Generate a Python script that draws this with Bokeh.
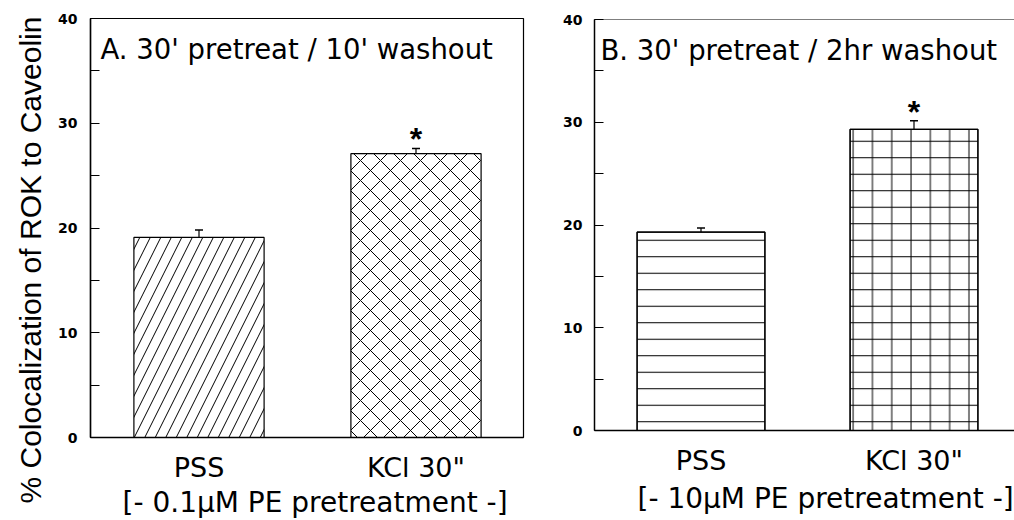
import math
from bokeh.plotting import figure
from bokeh.layouts import row, column
from bokeh.models import (Range1d, FixedTicker, SingleIntervalTicker, ColumnDataSource,
                          Whisker, TeeHead, Label, Span, Title)
from bokeh.core.properties import value
from bokeh.embed import file_html
from bokeh.resources import INLINE

# ---- data ----
categories = ["PSS", 'KCl 30"']
a_means = [19.1, 27.1]
a_sem = [0.7, 0.5]
b_means = [19.3, 29.3]
b_sem = [0.4, 0.85]
significant = ["", "*"]
panel_titles = ["A. 30' pretreat / 10' washout", "B. 30' pretreat / 2hr washout"]
panel_subtitles = ["[- 0.1\u03bcM PE pretreatment -]", "[- 10\u03bcM PE pretreatment -]"]
y_title = "% Colocalization of ROK to Caveolin"

HFONT = "DejaVu Sans"


def make_panel(means, sem, width, height, mb_left, mb_right, mb_top, mb_bottom,
               x_end, hatch, hatch_scale, extra_hatch=None, extra_scale=None,
               outline=True, tick_standoff=13):
    x = [i + 0.5 for i in range(len(categories))]
    src = ColumnDataSource(dict(
        x=x, top=means, upper=[m + s for m, s in zip(means, sem)],
        star=significant, hatch=hatch, hscale=hatch_scale,
    ))
    p = figure(width=width, height=height, output_backend="svg", toolbar_location=None,
               title=None, x_range=Range1d(0, x_end), y_range=Range1d(0, 40),
               background_fill_color="white", border_fill_color="white")
    p.min_border = 0
    p.min_border_left = mb_left
    p.min_border_right = mb_right
    p.min_border_top = mb_top
    p.min_border_bottom = mb_bottom
    p.xgrid.visible = False
    p.ygrid.visible = False
    if outline:
        p.outline_line_color = "black"
        p.outline_line_width = 1.2
    else:
        p.outline_line_color = None
        p.add_layout(Span(location=40, dimension="width", line_color="black", line_width=1.2))

    p.vbar(x="x", top="top", width=0.6, source=src, fill_color="white",
           line_color="black", line_width=1.2, hatch_pattern="hatch",
           hatch_scale="hscale", hatch_color="black", hatch_weight=1)
    if extra_hatch is not None:
        src2 = ColumnDataSource(dict(x=x, top=means, hatch=extra_hatch, hscale=extra_scale))
        p.vbar(x="x", top="top", width=0.6, source=src2, fill_color=None,
               line_color="black", line_width=1.2, hatch_pattern="hatch",
               hatch_scale="hscale", hatch_color="black", hatch_weight=1)

    p.add_layout(Whisker(source=src, base="x", upper="upper", lower="top",
                         dimension="height", line_color="black", line_width=1.2,
                         upper_head=TeeHead(size=8, line_color="black", line_width=1.5),
                         lower_head=None))
    p.text(x="x", y="upper", text="star", source=src, text_align="center",
           text_baseline="alphabetic", text_font=value("Liberation Sans"),
           text_font_style="bold", text_font_size="32px", text_color="black",
           y_offset=-9)

    yax = p.yaxis[0]
    yax.ticker = SingleIntervalTicker(interval=10, num_minor_ticks=2)
    yax.major_tick_in = 3
    yax.major_tick_out = 0
    yax.minor_tick_in = 9
    yax.minor_tick_out = 0
    yax.major_tick_line_width = 1.2
    yax.minor_tick_line_width = 1.2
    yax.axis_line_width = 1.5
    yax.major_label_text_font = HFONT
    yax.major_label_text_font_style = "bold"
    yax.major_label_text_font_size = "14px"
    yax.major_label_standoff = tick_standoff
    yax.major_label_text_color = "black"

    xax = p.xaxis[0]
    xax.ticker = FixedTicker(ticks=x)
    xax.major_label_overrides = {xv: c for xv, c in zip(x, categories)}
    xax.major_tick_line_color = None
    xax.minor_tick_line_color = None
    xax.axis_line_width = 1.5
    xax.major_label_text_font = HFONT
    xax.major_label_text_font_size = "27px"
    xax.major_label_standoff = 8
    xax.major_label_text_color = "black"
    return p


# Panel A: frame 90..523 x 18..437 (page coords), 217 px per category unit
p1 = make_panel(a_means, a_sem, 553, 520, 90, 30, 18, 83, 433 / 217,
                hatch=["/", "x"], hatch_scale=[21, 20])
# Panel B: frame 594..1014 x 19..430, 213 px per category unit
p2 = make_panel(b_means, b_sem, 461, 520, 41, 0, 19, 90, 420 / 213,
                hatch=["-", "-"], hatch_scale=[16.5, 16.5],
                extra_hatch=[" ", "|"], extra_scale=[19.3, 19.3],
                outline=False, tick_standoff=12)

# titles inside frames
p1.add_layout(Label(x=10 / 217, y=37.05, text=panel_titles[0], text_font=HFONT,
                    text_font_size="27.5px", text_align="left", text_baseline="alphabetic",
                    text_color="black"))
p2.add_layout(Label(x=6 / 213, y=37.05, text=panel_titles[1], text_font=HFONT,
                    text_font_size="27.5px", text_align="left", text_baseline="alphabetic",
                    text_color="black"))

# subtitles below the axes
p1.add_layout(Title(text=panel_subtitles[0], align="left", offset=32, standoff=0,
                    vertical_align="top", text_font=HFONT, text_font_size="28px",
                    text_font_style="normal", text_color="black"), "below")
p2.add_layout(Title(text=panel_subtitles[1], align="left", offset=43, standoff=6,
                    vertical_align="top", text_font=HFONT, text_font_size="28px",
                    text_font_style="normal", text_color="black"), "below")

# y axis title
p1.add_layout(Title(text=y_title, align="left", offset=-66, standoff=18,
                    vertical_align="bottom", text_font="Liberation Sans",
                    text_font_size="30px", text_font_style="normal",
                    text_color="black"), "left")

layout = row(p1, column(p2), spacing=0)
open("out.html", "w").write(file_html(layout, INLINE))
